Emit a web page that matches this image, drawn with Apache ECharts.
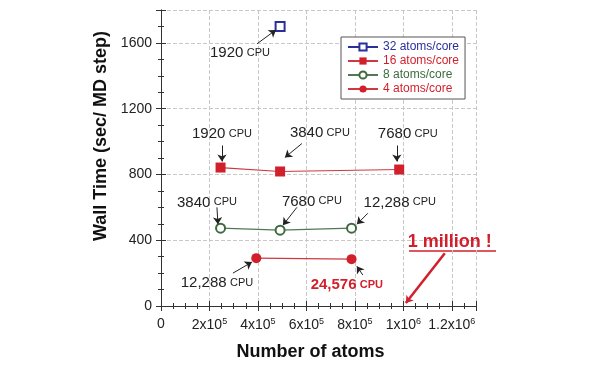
<!DOCTYPE html>
<html>
<head>
<meta charset="utf-8">
<script src="https://cdn.jsdelivr.net/npm/echarts@6/dist/echarts.min.js"></script>
<style>
html, body { margin: 0; padding: 0; background: #fff; }
#myChart { width: 600px; height: 370px; }
</style>
</head>
<body>
<div id="myChart"></div>
<script>
// data: [atoms, wall time]
let names = ['32 atoms/core', '16 atoms/core', '8 atoms/core', '4 atoms/core']
let d32 = [[491520, 1700]]
let d16 = [[245760, 842], [491520, 818], [983040, 830]]
let d8 = [[245760, 473], [491520, 461], [786432, 473]]
let d4 = [[393216, 291], [786432, 285]]
let xTicks = ['0', '2x10{s|5}', '4x10{s|5}', '6x10{s|5}', '8x10{s|5}', '1x10{s|6}', '1.2x10{s|6}']

// annotations: [number, label x, label y, arrow from, arrow to]
let notes = [
    ['1920', 326000, 1539, [395900, 1594], [474300, 1679]],
    ['1920', 251600, 1048, [251600, 976], [251600, 879]],
    ['3840', 655700, 1054, [581500, 988], [511400, 903]],
    ['7680', 1018600, 1048, [973300, 976], [973300, 879]],
    ['3840', 189700, 630, [230900, 600], [235100, 497]],
    ['7680', 622700, 636, [560900, 600], [503100, 491]],
    ['12,288', 985600, 630, [853700, 564], [808300, 497]],
    ['12,288', 230900, 139, [296900, 200], [375300, 267]]
]
let redNote = ['24,576', 767000, 127, [833000, 188], [808300, 242]]
let million = ['1 million !', 1191800, 388, [1171200, 321], [1010400, 18]]

let red = '#d21f2c'
let font = 'Liberation Sans, Arial, sans-serif'

let myChart = echarts.init(document.getElementById('myChart'))

function tickAxis(extra) {
    return Object.assign({
        type: 'value',
        axisLine: { show: true, lineStyle: { color: '#333', width: 1 } },
        axisTick: { show: true, inside: true, length: 5, lineStyle: { color: '#333' } },
        minorTick: { show: true, splitNumber: 4, length: 3, lineStyle: { color: '#333' } },
        splitLine: { show: false }
    }, extra)
}

let labelData = notes.map(n => ({
    coord: [n[1], n[2]],
    value: n[0],
    label: { formatter: '{n|' + n[0] + '} {c|CPU}' }
}))
labelData.push({
    coord: [redNote[1], redNote[2]],
    value: redNote[0],
    label: { formatter: '{r|' + redNote[0] + '} {rc|CPU}' }
})
labelData.push({
    coord: [million[1], million[2]],
    value: million[0],
    label: { formatter: '{m|' + million[0] + '}' }
})

let arrowData = notes.map(n => [{ coord: n[3] }, { coord: n[4] }])
arrowData.push([{ coord: redNote[3] }, { coord: redNote[4] }])
arrowData.push([
    { coord: million[3], lineStyle: { color: red, width: 2.5 }, symbolSize: 11 },
    { coord: million[4] }
])

let option = {
    animation: false,
    textStyle: { fontFamily: font },
    grid: { left: 161, right: 124, top: 10, bottom: 64 },
    legend: {
        orient: 'vertical',
        left: 341,
        top: 37,
        padding: [4, 6, 4, 6],
        itemGap: 2,
        itemWidth: 30,
        itemHeight: 9,
        borderColor: '#555',
        borderWidth: 1,
        backgroundColor: '#fff',
        textStyle: { fontSize: 12, fontFamily: font },
        data: [
            { name: names[0], textStyle: { color: '#2b2f9a' } },
            { name: names[1], textStyle: { color: red } },
            { name: names[2], textStyle: { color: '#3d6b3d' } },
            { name: names[3], textStyle: { color: red } }
        ]
    },
    xAxis: [
        tickAxis({
            min: 0, max: 1300000, interval: 200000,
            name: 'Number of atoms',
            nameLocation: 'middle',
            nameGap: 37,
            nameTextStyle: { fontSize: 18, fontWeight: 'bold', color: '#111', padding: [0, 16, 0, 0] },
            axisLabel: {
                showMaxLabel: false,
                margin: 11,
                fontSize: 14,
                color: '#222',
                formatter: (v) => xTicks[Math.round(v / 200000)],
                rich: { s: { fontSize: 9, verticalAlign: 'top', padding: [0, 0, 8, 0], color: '#222' } }
            },
            splitLine: { show: true, lineStyle: { color: '#c8c8c8', type: 'dashed' } }
        }),
        tickAxis({
            position: 'top', min: 0, max: 1300000, interval: 200000,
            axisLabel: { show: false }
        })
    ],
    yAxis: [
        tickAxis({
            min: 0, max: 1800, interval: 400,
            name: 'Wall Time (sec/ MD step)',
            nameLocation: 'middle',
            nameGap: 48,
            nameTextStyle: { fontSize: 18, fontWeight: 'bold', color: '#111', padding: [0, 0, 0, 44] },
            axisLabel: { showMaxLabel: false, margin: 9, fontSize: 14, color: '#222', formatter: (v) => String(v) },
            splitLine: { show: true, lineStyle: { color: '#c8c8c8', type: 'dashed' } }
        }),
        tickAxis({
            position: 'right', min: 0, max: 1800, interval: 400,
            axisLabel: { show: false }
        })
    ],
    series: [
        {
            name: names[0], type: 'line', data: d32,
            symbol: 'emptyRect', symbolSize: 9,
            lineStyle: { color: '#2b2f9a', width: 1.2 },
            itemStyle: { color: '#2b2f9a', borderWidth: 1.2 }
        },
        {
            name: names[1], type: 'line', data: d16,
            symbol: 'rect', symbolSize: 10,
            lineStyle: { color: '#cc3a40', width: 1.2 },
            itemStyle: { color: red }
        },
        {
            name: names[2], type: 'line', data: d8,
            symbol: 'emptyCircle', symbolSize: 9,
            lineStyle: { color: '#4f7a55', width: 1.2 },
            itemStyle: { color: '#3d6b3d', borderWidth: 1.2 }
        },
        {
            name: names[3], type: 'line', data: d4,
            symbol: 'circle', symbolSize: 10,
            lineStyle: { color: '#cc3a40', width: 1.2 },
            itemStyle: { color: red }
        },
        {
            name: 'notes', type: 'line', data: [],
            silent: true,
            markPoint: {
                symbol: 'rect', symbolSize: 0,
                label: {
                    show: true, position: 'inside',
                    rich: {
                        n: { fontSize: 15, color: '#222', fontFamily: font },
                        c: { fontSize: 11, color: '#222', fontFamily: font },
                        r: { fontSize: 15, color: red, fontWeight: 'bold', fontFamily: font },
                        rc: { fontSize: 11, color: red, fontWeight: 'bold', fontFamily: font },
                        m: { fontSize: 18, color: red, fontWeight: 'bold', fontFamily: font }
                    }
                },
                data: labelData
            },
            markLine: {
                silent: true,
                symbol: ['none', 'arrow'],
                symbolSize: 7,
                label: { show: false },
                lineStyle: { color: '#222', width: 1, type: 'solid' },
                data: arrowData
            }
        }
    ],
    graphic: [
        // underline of "1 million !"
        { type: 'line', shape: { x1: 409, y1: 251, x2: 496, y2: 251 }, style: { stroke: red, lineWidth: 1.5 } }
    ]
}
myChart.setOption(option)
</script>
</body>
</html>
